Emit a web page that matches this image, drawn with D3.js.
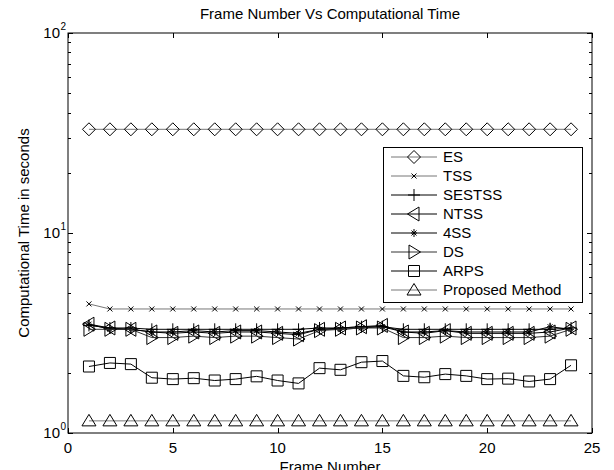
<!DOCTYPE html>
<html><head><meta charset="utf-8">
<script src="https://cdn.jsdelivr.net/npm/d3@7/dist/d3.min.js"></script>
<style>body{margin:0;background:#fff}text{font-family:"Liberation Sans",Arial,sans-serif;fill:#000}</style>
</head><body><svg id="c" width="614" height="470"></svg>
<script>
const frames = d3.range(1, 25);
const ES = [33,33,33,33,33,33,33,33,33,33,33,33,33,33,33,33,33,33,33,33,33,33,33,33];
const TSS = [4.42,4.17,4.17,4.17,4.17,4.17,4.17,4.17,4.17,4.17,4.17,4.17,4.17,4.17,4.17,4.17,4.17,4.17,4.17,4.17,4.17,4.17,4.17,4.17];
const SESTSS = [3.45,3.35,3.35,3.3,3.3,3.3,3.3,3.3,3.3,3.3,3.3,3.35,3.35,3.4,3.4,3.3,3.3,3.3,3.3,3.3,3.3,3.3,3.3,3.35];
const NTSS = [3.5,3.35,3.3,3.2,3.15,3.2,3.15,3.2,3.2,3.15,3.1,3.3,3.35,3.4,3.45,3.2,3.15,3.25,3.15,3.15,3.15,3.15,3.2,3.35];
const FSS = [3.5,3.3,3.3,3.2,3.2,3.25,3.2,3.25,3.25,3.2,3.15,3.3,3.3,3.35,3.4,3.2,3.2,3.25,3.2,3.2,3.2,3.2,3.4,3.3];
const DS = [3.3,3.3,3.3,3.0,3.0,3.05,3.0,3.05,3.05,3.0,2.95,3.25,3.3,3.35,3.35,3.0,3.0,3.05,3.0,3.0,3.0,3.0,3.05,3.3];
const ARPS = [2.15,2.24,2.21,1.89,1.86,1.88,1.83,1.86,1.92,1.83,1.77,2.11,2.07,2.26,2.29,1.93,1.90,1.97,1.93,1.86,1.87,1.81,1.86,2.18];
const PROPOSED = [1.15,1.15,1.15,1.15,1.15,1.15,1.15,1.15,1.15,1.15,1.15,1.15,1.15,1.15,1.15,1.15,1.15,1.15,1.15,1.15,1.15,1.15,1.15,1.15];
const xTicks = [0,5,10,15,20,25];
const yTicks = [1,10,100];
const yExp = ["0","1","2"];

const series = [
  {name:"ES", v:ES, m:"diamond", c:"#777"},
  {name:"TSS", v:TSS, m:"x", c:"#777"},
  {name:"SESTSS", v:SESTSS, m:"plus", c:"#000"},
  {name:"NTSS", v:NTSS, m:"triL", c:"#000"},
  {name:"4SS", v:FSS, m:"star", c:"#000"},
  {name:"DS", v:DS, m:"triR", c:"#333"},
  {name:"ARPS", v:ARPS, m:"square", c:"#000"},
  {name:"Proposed Method", v:PROPOSED, m:"triU", c:"#777"}
];

const svg = d3.select("#c");
const L=68,R=592,T=33,B=433;
const x = d3.scaleLinear().domain([0,25]).range([L,R]);
const y = d3.scaleLog().domain([1,100]).range([B,T]);
const FS = 15;

svg.append("rect").attr("x",L).attr("y",T).attr("width",R-L).attr("height",B-T)
  .attr("fill","none").attr("stroke","#000").attr("stroke-width",1);

const g = svg.append("g").attr("stroke","#000").attr("stroke-width",1);
xTicks.forEach(t=>{
  const px = Math.round(x(t))+0.5;
  g.append("line").attr("x1",px).attr("x2",px).attr("y1",B).attr("y2",B-5);
  g.append("line").attr("x1",px).attr("x2",px).attr("y1",T).attr("y2",T+5);
  svg.append("text").attr("x",x(t)).attr("y",453).attr("text-anchor","middle").attr("font-size",FS).text(t);
});
const minor = [];
[1,10].forEach(d=>{ for(let k=2;k<=9;k++) minor.push(d*k); });
yTicks.forEach(t=>{
  const py = Math.round(y(t))+0.5;
  g.append("line").attr("x1",L).attr("x2",L+5).attr("y1",py).attr("y2",py);
  g.append("line").attr("x1",R).attr("x2",R-5).attr("y1",py).attr("y2",py);
});
minor.forEach(t=>{
  const py = Math.round(y(t))+0.5;
  g.append("line").attr("x1",L).attr("x2",L+3).attr("y1",py).attr("y2",py);
  g.append("line").attr("x1",R).attr("x2",R-3).attr("y1",py).attr("y2",py);
});
yTicks.forEach((t,i)=>{
  svg.append("text").attr("x",60).attr("y",y(t)+5).attr("text-anchor","end").attr("font-size",FS).text("10");
  svg.append("text").attr("x",60.5).attr("y",y(t)-3).attr("font-size",10).text(yExp[i]);
});

svg.append("text").attr("x",(L+R)/2).attr("y",19).attr("text-anchor","middle").attr("font-size",FS).text("Frame Number Vs Computational Time");
svg.append("text").attr("x",(L+R)/2).attr("y",472).attr("text-anchor","middle").attr("font-size",FS).text("Frame Number");
svg.append("text").attr("transform",`translate(29,${(T+B)/2}) rotate(-90)`).attr("text-anchor","middle").attr("font-size",FS).text("Computational Time in seconds");

function marker(sel, m, cx, cy){
  const s=6.5;
  let el;
  switch(m){
    case "diamond": el=sel.append("path").attr("d",`M${cx},${cy-s}L${cx+s},${cy}L${cx},${cy+s}L${cx-s},${cy}Z`); break;
    case "square": el=sel.append("path").attr("d",`M${cx-5.5},${cy-5.5}h11v11h-11Z`); break;
    case "triU": el=sel.append("path").attr("d",`M${cx},${cy-6.5}L${cx+7},${cy+5}L${cx-7},${cy+5}Z`); break;
    case "triL": el=sel.append("path").attr("d",`M${cx-6.5},${cy}L${cx+5},${cy-7}L${cx+5},${cy+7}Z`); break;
    case "triR": el=sel.append("path").attr("d",`M${cx+6.5},${cy}L${cx-5},${cy-7}L${cx-5},${cy+7}Z`); break;
    case "x": el=sel.append("path").attr("d",`M${cx-2.5},${cy-2.5}L${cx+2.5},${cy+2.5}M${cx-2.5},${cy+2.5}L${cx+2.5},${cy-2.5}`); break;
    case "plus": el=sel.append("path").attr("d",`M${cx-6},${cy}H${cx+6}M${cx},${cy-6}V${cy+6}`); break;
    case "star": el=sel.append("path").attr("d",`M${cx-3},${cy}H${cx+3}M${cx},${cy-4}V${cy+4}M${cx-2.5},${cy-2.5}L${cx+2.5},${cy+2.5}M${cx-2.5},${cy+2.5}L${cx+2.5},${cy-2.5}`); break;
  }
  el.attr("fill","none").attr("stroke","#000").attr("stroke-width",1);
}

const line = d3.line().x((d,i)=>x(frames[i])).y(d=>y(d));
series.forEach(s=>{
  const gs = svg.append("g");
  gs.append("path").datum(s.v).attr("d",line).attr("fill","none").attr("stroke",s.c).attr("stroke-width",1);
  s.v.forEach((v,i)=>marker(gs,s.m,x(frames[i]),y(v)));
});

const lg = svg.append("g");
lg.append("rect").attr("x",383.5).attr("y",147.5).attr("width",199).attr("height",155).attr("fill","#fff").attr("stroke","#000");
series.forEach((s,i)=>{
  const ly = 157 + i*19;
  lg.append("line").attr("x1",391).attr("x2",437).attr("y1",ly).attr("y2",ly).attr("stroke",s.c);
  marker(lg,s.m,414,ly);
  lg.append("text").attr("x",443).attr("y",ly+5).attr("font-size",FS).text(s.name);
});
</script></body></html>
